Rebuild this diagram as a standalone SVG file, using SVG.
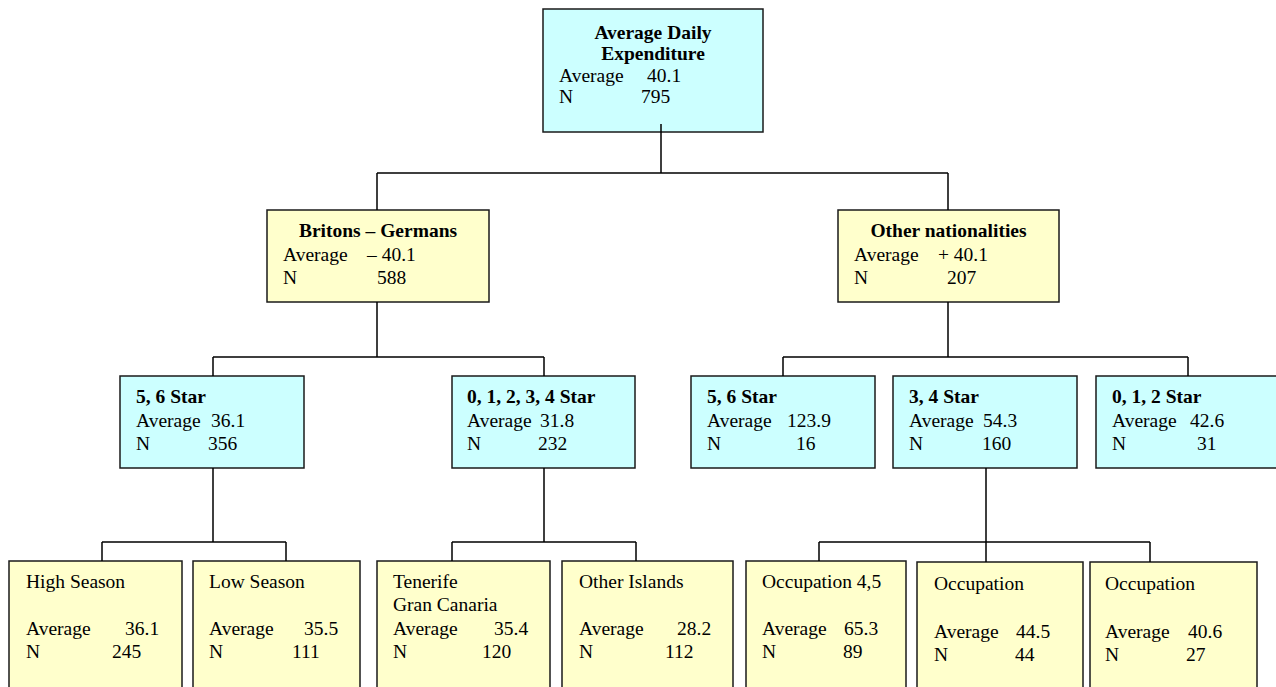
<svg xmlns="http://www.w3.org/2000/svg" width="1276" height="687" viewBox="0 0 1276 687">
<style>
.c{fill:#CCFFFF;stroke:#1a1a1a;stroke-width:1.5}
.y{fill:#FFFFCC;stroke:#1a1a1a;stroke-width:1.5}
text{font-family:"Liberation Serif","Times New Roman",serif;font-size:19.5px;fill:#000}
.b{font-weight:bold}
.m{text-anchor:middle}
.ln{fill:none;stroke:#000;stroke-width:1.5}
</style>
<rect width="1276" height="687" fill="#fff"/>
<g id="root">
<rect class="c" x="543" y="9" width="220" height="123"/>
<text class="b m" x="653" y="38.5">Average Daily</text>
<text class="b m" x="653" y="60">Expenditure</text>
<text x="559" y="81.5">Average</text><text x="647" y="81.5">40.1</text>
<text x="559" y="103">N</text><text x="641" y="103">795</text>
</g>
<g id="britons">
<rect class="y" x="267" y="210" width="222" height="92"/>
<text class="b m" x="378" y="237">Britons – Germans</text>
<text x="283" y="261">Average</text><text x="367" y="261">– 40.1</text>
<text x="283" y="284">N</text><text x="377" y="284">588</text>
</g>
<g id="other">
<rect class="y" x="838" y="210" width="221" height="92"/>
<text class="b m" x="948.5" y="237">Other nationalities</text>
<text x="854" y="261">Average</text><text x="938" y="261">+ 40.1</text>
<text x="854" y="284">N</text><text x="947" y="284">207</text>
</g>
<g id="bg56">
<rect class="c" x="120" y="376" width="184" height="92"/>
<text class="b" x="136" y="403">5, 6 Star</text>
<text x="136" y="427">Average</text><text x="211" y="427">36.1</text>
<text x="136" y="450">N</text><text x="208" y="450">356</text>
</g>
<g id="bg01234">
<rect class="c" x="452" y="376" width="183" height="92"/>
<text class="b" x="467" y="403">0, 1, 2, 3, 4 Star</text>
<text x="467" y="427">Average</text><text x="540" y="427">31.8</text>
<text x="467" y="450">N</text><text x="538" y="450">232</text>
</g>
<g id="on56">
<rect class="c" x="691" y="376" width="184" height="92"/>
<text class="b" x="707" y="403">5, 6 Star</text>
<text x="707" y="427">Average</text><text x="787" y="427">123.9</text>
<text x="707" y="450">N</text><text x="796" y="450">16</text>
</g>
<g id="on34">
<rect class="c" x="893" y="376" width="184" height="92"/>
<text class="b" x="909" y="403">3, 4 Star</text>
<text x="909" y="427">Average</text><text x="983" y="427">54.3</text>
<text x="909" y="450">N</text><text x="982" y="450">160</text>
</g>
<g id="on012">
<rect class="c" x="1096" y="376" width="200" height="92"/>
<text class="b" x="1112" y="403">0, 1, 2 Star</text>
<text x="1112" y="427">Average</text><text x="1190" y="427">42.6</text>
<text x="1112" y="450">N</text><text x="1197" y="450">31</text>
</g>
<g id="high">
<rect class="y" x="9" y="561" width="173" height="160"/>
<text x="26" y="588">High Season</text>
<text x="26" y="635">Average</text><text x="125" y="635">36.1</text>
<text x="26" y="658">N</text><text x="112" y="658">245</text>
</g>
<g id="low">
<rect class="y" x="193" y="561" width="167" height="160"/>
<text x="209" y="588">Low Season</text>
<text x="209" y="635">Average</text><text x="304" y="635">35.5</text>
<text x="209" y="658">N</text><text x="292" y="658">111</text>
</g>
<g id="tenerife">
<rect class="y" x="377" y="561" width="173" height="160"/>
<text x="393" y="588">Tenerife</text>
<text x="393" y="611">Gran Canaria</text>
<text x="393" y="635">Average</text><text x="494" y="635">35.4</text>
<text x="393" y="658">N</text><text x="482" y="658">120</text>
</g>
<g id="islands">
<rect class="y" x="562" y="561" width="171" height="160"/>
<text x="579" y="588">Other Islands</text>
<text x="579" y="635">Average</text><text x="677" y="635">28.2</text>
<text x="579" y="658">N</text><text x="665" y="658">112</text>
</g>
<g id="occ45">
<rect class="y" x="746" y="561" width="160" height="160"/>
<text x="762" y="588">Occupation 4,5</text>
<text x="762" y="635">Average</text><text x="844" y="635">65.3</text>
<text x="762" y="658">N</text><text x="843" y="658">89</text>
</g>
<g id="occ2">
<rect class="y" x="917" y="562" width="166" height="160"/>
<text x="934" y="590">Occupation</text>
<text x="934" y="638">Average</text><text x="1016" y="638">44.5</text>
<text x="934" y="661">N</text><text x="1015" y="661">44</text>
</g>
<g id="occ3">
<rect class="y" x="1090" y="562" width="167" height="160"/>
<text x="1105" y="590">Occupation</text>
<text x="1105" y="638">Average</text><text x="1188" y="638">40.6</text>
<text x="1105" y="661">N</text><text x="1186" y="661">27</text>
</g>
<g id="connectors" class="ln">
<path class="ln" d="M661 124V173M377 173H948M377 173V210M948 173V210"/>
<path class="ln" d="M377 302V357M213 357H544M213 357V376M544 357V376"/>
<path class="ln" d="M948 302V357M783 357H1188M783 357V376M1188 357V376"/>
<path class="ln" d="M213 468V542M102 542H286M102 542V561M286 542V561"/>
<path class="ln" d="M544 468V542M452 542H636M452 542V561M636 542V561"/>
<path class="ln" d="M986 468V562M819 542H1150M819 542V561M1150 542V562"/>
</g>
</svg>
